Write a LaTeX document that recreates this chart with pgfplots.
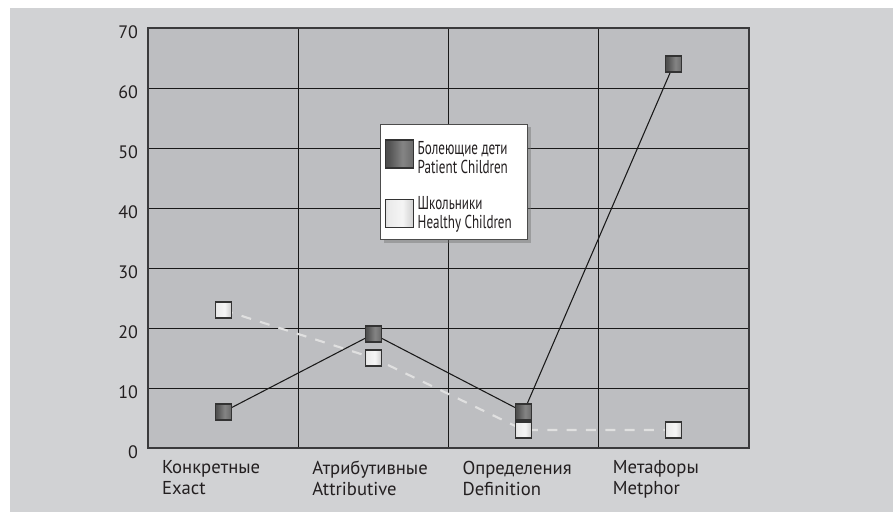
\documentclass[border=0pt]{standalone}
\usepackage{fontspec}
\setmainfont{PT Sans}
\newfontfamily\condfont[FakeStretch=0.7]{PT Sans}
\usepackage{pgfplots}
\pgfplotsset{compat=1.18}
\usetikzlibrary{shadows}

\definecolor{pagegray}{HTML}{D1D2D4}
\definecolor{plotgray}{HTML}{BDBEC1}
\definecolor{framegray}{HTML}{3A3A3C}
\definecolor{textdark}{HTML}{231F20}

% shaded square markers
\pgfdeclarehorizontalshading{darkshade}{100bp}{%
  color(0bp)=(black!78); color(30bp)=(black!68); color(55bp)=(black!48); color(100bp)=(black!72)}
\pgfdeclarehorizontalshading{lightshade}{100bp}{%
  color(0bp)=(black!30); color(30bp)=(black!8); color(55bp)=(black!4); color(100bp)=(black!38)}
% #1 shading, #2 half side
\newcommand\shadedsquare[2]{%
  \pgfsetdash{}{0pt}%
  \pgfpathrectangle{\pgfpoint{-#2}{-#2}}{\pgfpoint{2*#2}{2*#2}}%
  \pgfshadepath{#1}{0}%
  \pgfsetstrokecolor{black!80}\pgfsetlinewidth{0.9pt}%
  \pgfpathrectangle{\pgfpoint{-#2}{-#2}}{\pgfpoint{2*#2}{2*#2}}%
  \pgfusepathqstroke}
\pgfdeclareplotmark{darksq}{\shadedsquare{darkshade}{6pt}}
\pgfdeclareplotmark{lightsq}{\shadedsquare{lightshade}{6pt}}
\pgfdeclareplotmark{darksqbig}{\shadedsquare{darkshade}{10.5pt}}
\pgfdeclareplotmark{lightsqbig}{\shadedsquare{lightshade}{10.5pt}}

\begin{document}
\begin{tikzpicture}
\path[use as bounding box] (0pt,0pt) rectangle (669.75pt,384pt);
\fill[pagegray] (7.5pt,0pt) rectangle (669.75pt,378pt);
\begin{axis}[
  at={(111pt,48pt)}, anchor=south west,
  scale only axis, width=450.75pt, height=315pt,
  xmin=0, xmax=4, ymin=0, ymax=70,
  axis background/.style={fill=plotgray},
  axis line style={draw=framegray, line width=1.2pt},
  xtick={0,1,2,3}, ytick={0,10,...,70},
  major tick length=0pt,
  grid=major,
  major grid style={draw=black!90, line width=0.75pt},
  /pgf/number format/assume math mode=true,
  xticklabels={{Конкретные\\Exact},{Атрибутивные\\Attributive},{Определения\\Definition},{Метафоры\\Metphor}},
  xticklabel style={align=left, anchor=north west, xshift=7pt, yshift=-6pt,
    font=\fontsize{14}{15.75}\selectfont, text=textdark},
  yticklabel style={font=\fontsize{13.5}{16}\selectfont, text=textdark, xshift=-4pt, yshift=-3.5pt},
  legend style={at={(0.386,0.772)}, anchor=north west, fill=white, draw=black!70,
    line width=0.6pt, font=\condfont\fontsize{14}{14.25}\selectfont, text=textdark,
    cells={align=left}, inner xsep=4pt, inner ysep=4.5pt, row sep=12pt,
    column sep=1pt,
    drop shadow={shadow xshift=2.5pt, shadow yshift=-2.5pt, fill=black!55, opacity=0.45}},
  legend cell align=left,
]
\addplot[color=black!90, line width=0.8pt, mark=darksq,
  legend image code/.code={\draw[mark=darksqbig] plot coordinates {(0.3cm,0cm)};}]
  coordinates {(0.5,6) (1.5,19) (2.5,6) (3.5,64)};
\addlegendentry{\rule{0pt}{16pt}Болеющие дети\\Patient Children}
\addplot[color=white!88!black, line width=1.6pt, dash pattern=on 7.5pt off 7pt, mark=lightsq,
  legend image code/.code={\draw[mark=lightsqbig] plot coordinates {(0.3cm,0cm)};}]
  coordinates {(0.5,23) (1.5,15) (2.5,3) (3.5,3)};
\addlegendentry{Школьники\\Healthy Children\hspace*{6pt}}
\end{axis}
\end{tikzpicture}
\end{document}
